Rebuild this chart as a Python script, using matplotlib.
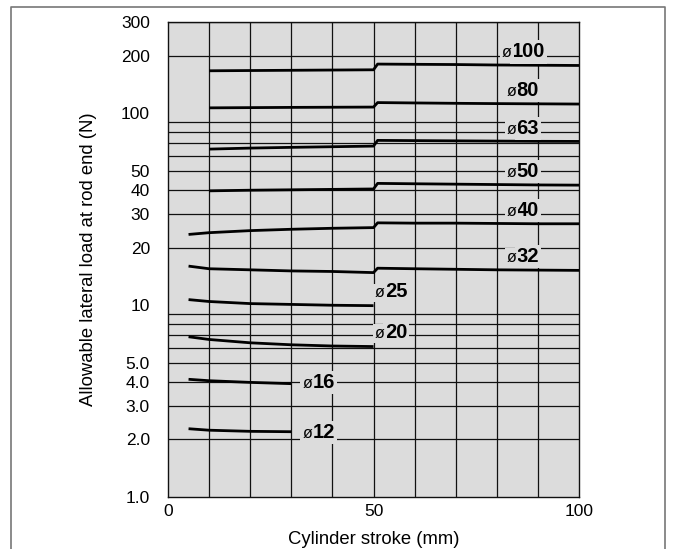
import matplotlib
matplotlib.use("Agg")
import matplotlib.pyplot as plt
from matplotlib.lines import Line2D

plt.rcParams['font.family'] = ['Liberation Sans', 'DejaVu Sans']

# ---- data ----
x_large = [10, 20, 30, 40, 50, 51, 60, 70, 80, 90, 100]
d100 = [167, 167.5, 168, 168.5, 169, 181, 180.5, 180, 179, 178.5, 178]
d80 = [107, 107.3, 107.6, 107.8, 108, 114, 113.5, 113, 112.6, 112.3, 112]
d63 = [65.2, 66.0, 66.6, 67.1, 67.6, 72.4, 72.2, 72.0, 71.8, 71.6, 71.5]
d50 = [39.5, 39.8, 40.0, 40.2, 40.4, 43.2, 43.0, 42.8, 42.6, 42.4, 42.3]

x_mid = [5, 10, 20, 30, 40, 50, 51, 60, 70, 80, 90, 100]
d40 = [23.4, 23.9, 24.5, 24.9, 25.2, 25.4, 26.9, 26.8, 26.8, 26.7, 26.6, 26.6]
d32 = [16.0, 15.5, 15.3, 15.1, 15.0, 14.8, 15.6, 15.5, 15.4, 15.3, 15.25, 15.2]

x_small = [5, 10, 20, 30, 40, 50]
d25 = [10.7, 10.46, 10.2, 10.1, 10.0, 9.95]
d20 = [6.85, 6.63, 6.37, 6.22, 6.13, 6.09]

x_tiny = [5, 10, 20, 30]
d16 = [4.11, 4.04, 3.96, 3.90]
d12 = [2.27, 2.23, 2.20, 2.19]

series = [
    (x_large, d100), (x_large, d80), (x_large, d63), (x_large, d50),
    (x_mid, d40), (x_mid, d32), (x_small, d25), (x_small, d20),
    (x_tiny, d16), (x_tiny, d12),
]

label_names = ['100', '80', '63', '50', '40', '32', '25', '20', '16', '12']
label_x = [83.6, 84.8, 84.8, 84.8, 84.8, 84.8, 52.8, 52.8, 35.1, 35.1]
label_y = [195.9, 123.7, 78.1, 46.4, 29.3, 16.86, 10.98, 6.75, 3.715, 2.03]

y_ticks = [1, 2, 3, 4, 5, 10, 20, 30, 40, 50, 100, 200, 300]
y_ticklabels = ['1.0', '2.0', '3.0', '4.0', '5.0', '10', '20', '30', '40', '50', '100', '200', '300']
x_ticks = [0, 50, 100]
x_ticklabels = ['0', '50', '100']
h_grid = [2, 3, 4, 5, 6, 7, 8, 9, 20, 30, 40, 50, 60, 70, 80, 90, 200, 300]
v_grid = [10, 20, 30, 40, 50, 60, 70, 80, 90]

# ---- figure ----
fig = plt.figure(figsize=(6.75, 5.49), dpi=100)
ax = fig.add_axes([168/675, 1-497/549, (579-168)/675, (497-22)/549])
bg = '#dcdcdc'
ax.set_facecolor(bg)
ax.set_yscale('log')
ax.set_xlim(0, 100)
ax.set_ylim(1, 300)

for v in h_grid:
    ax.axhline(v, color='#111111', lw=0.9, zorder=1)
for v in v_grid:
    ax.axvline(v, color='#111111', lw=0.9, zorder=1)

for xs, ys in series:
    ax.plot(xs, ys, color='black', lw=2.0, solid_capstyle='butt', zorder=3)

for name, lx, ly in zip(label_names, label_x, label_y):
    ax.text(lx, ly, name, ha='left', va='baseline', fontsize=14.5, fontweight='bold',
            zorder=4, bbox=dict(boxstyle='square,pad=0.1', fc=bg, ec='none'))
    ax.text(lx, ly, '\u00f8', ha='right', va='baseline', fontsize=11.5,
            zorder=4, bbox=dict(boxstyle='square,pad=0.12', fc=bg, ec='none'))

ax.minorticks_off()
ax.set_yticks(y_ticks)
ax.set_yticklabels(y_ticklabels)
ax.set_xticks(x_ticks)
ax.set_xticklabels(x_ticklabels)
ax.tick_params(axis='y', length=0, pad=13, labelsize=12.5)
ax.tick_params(axis='x', length=0, pad=5, labelsize=12.5)

for s in ax.spines.values():
    s.set_color('#111111')
    s.set_linewidth(1.0)

ax.set_xlabel('Cylinder stroke (mm)', fontsize=13.3, labelpad=9)
ax.set_ylabel('Allowable lateral load at rod end (N)', fontsize=13.3, labelpad=17)

# outer frame (open at bottom)
fl, fr, ft = 11/675, 665/675, 1-7/549
fig.add_artist(Line2D([fl, fl, fr, fr], [0, ft, ft, 0], transform=fig.transFigure,
                      color='#777777', lw=1.2))

fig.savefig('out.png', dpi=100)
